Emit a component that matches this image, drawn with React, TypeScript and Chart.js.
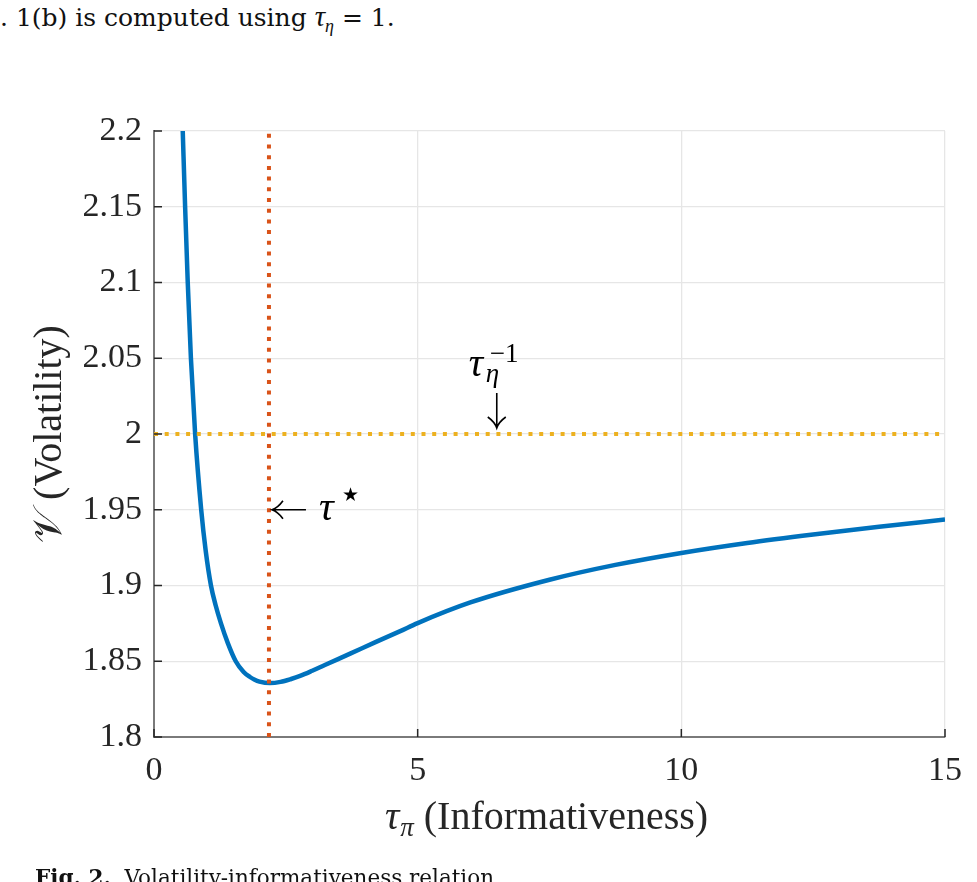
import React, { useEffect, useRef } from "react";
import { Chart, registerables } from "chart.js";

Chart.register(...registerables);

// ---- data ----
const tauPi = [0.545, 0.59, 0.64, 0.7, 0.78, 0.895, 0.98, 1.08, 1.17, 1.27, 1.4, 1.55, 1.7, 1.82, 1.9, 2.0, 2.2, 2.4, 2.6, 2.77, 3.0, 3.24, 3.72, 4.2, 4.67, 5, 6, 7.5, 8.75, 10, 11.25, 12.5, 13.75, 15];
const volatility = [2.2, 2.15, 2.1, 2.05, 2.0, 1.95, 1.923, 1.9, 1.8868, 1.875, 1.862, 1.85, 1.8429, 1.8396, 1.838, 1.8366, 1.8356, 1.8364, 1.8383, 1.8403, 1.8437, 1.8475, 1.855, 1.8626, 1.8699, 1.8752, 1.8888, 1.9038, 1.9136, 1.9215, 1.9281, 1.9337, 1.9388, 1.9435];
const tauStar = 2.18;
const tauEtaInvLevel = 2.0;
const tauEtaLabelX = 6.5;
const tauStarLabelY = 1.95;
const xRange = [0, 15];
const yRange = [1.8, 2.2];
const xTickValues = [0, 5, 10, 15];
const xTickLabels = ["0", "5", "10", "15"];
const yTickValues = [1.8, 1.85, 1.9, 1.95, 2.0, 2.05, 2.1, 2.15, 2.2];
const yTickLabels = ["1.8", "1.85", "1.9", "1.95", "2", "2.05", "2.1", "2.15", "2.2"];
const xTitleMain = "τ";
const xTitleSub = "π";
const xTitleRest = " (Informativeness)";
const yTitle = "𝒱 (Volatility)";

const SERIF = "'Liberation Serif', 'Times New Roman', serif";
const TEXTFONT = "'DejaVu Serif', serif";

const annotPlugin = {
  id: "annot",
  afterDatasetsDraw(chart: any) {
    const { ctx, chartArea: ca } = chart;
    const xs = chart.scales.x;
    const ys = chart.scales.y;
    ctx.save();
    // inward tick marks
    ctx.strokeStyle = "#262626";
    ctx.lineWidth = 1.5;
    ctx.beginPath();
    xs.ticks.forEach((t: any) => {
      const px = xs.getPixelForValue(t.value);
      ctx.moveTo(px, ca.bottom);
      ctx.lineTo(px, ca.bottom - 8);
    });
    ys.ticks.forEach((t: any) => {
      const py = ys.getPixelForValue(t.value);
      ctx.moveTo(ca.left, py);
      ctx.lineTo(ca.left + 8, py);
    });
    ctx.stroke();

    ctx.fillStyle = "#000";
    ctx.strokeStyle = "#000";
    ctx.lineWidth = 1.6;
    ctx.textBaseline = "alphabetic";
    ctx.textAlign = "left";

    // tau_eta^{-1} with down arrow
    const ax = xs.getPixelForValue(tauEtaLabelX);
    const ay = ys.getPixelForValue(tauEtaInvLevel);
    ctx.beginPath();
    ctx.moveTo(ax, ay - 41);
    ctx.lineTo(ax, ay - 7);
    ctx.moveTo(ax - 9, ay - 17);
    ctx.quadraticCurveTo(ax - 2, ay - 12, ax, ay - 6);
    ctx.quadraticCurveTo(ax + 2, ay - 12, ax + 9, ay - 17);
    ctx.stroke();
    ctx.font = `italic 40px ${SERIF}`;
    ctx.fillText("τ", ax - 28, ay - 58);
    ctx.font = `italic 27px ${SERIF}`;
    ctx.fillText("η", ax - 11, ay - 52);
    ctx.font = `27px ${SERIF}`;
    ctx.fillText("−1", ax - 7, ay - 72);

    // <- tau*
    const sx = xs.getPixelForValue(tauStar);
    const sy = ys.getPixelForValue(tauStarLabelY);
    ctx.beginPath();
    ctx.moveTo(sx + 4, sy);
    ctx.lineTo(sx + 37, sy);
    ctx.moveTo(sx + 14, sy - 9);
    ctx.quadraticCurveTo(sx + 9, sy - 2, sx + 3, sy);
    ctx.quadraticCurveTo(sx + 9, sy + 2, sx + 14, sy + 9);
    ctx.stroke();
    ctx.font = `italic 41px ${SERIF}`;
    ctx.fillText("τ", sx + 50, sy + 10);
    ctx.font = `19px 'DejaVu Sans', sans-serif`;
    ctx.fillText("★", sx + 73, sy - 9);

    // x axis title with subscript
    ctx.fillStyle = "#262626";
    ctx.font = `italic 40px ${SERIF}`;
    const wT = ctx.measureText(xTitleMain).width;
    ctx.font = `italic 27px ${SERIF}`;
    const wP = ctx.measureText(xTitleSub).width;
    ctx.font = `40px ${SERIF}`;
    const wR = ctx.measureText(xTitleRest).width;
    const total = wT + 1 + wP + wR;
    const cx = (ca.left + ca.right) / 2 - 3;
    let x0 = cx - total / 2;
    const base = ca.bottom + 92;
    ctx.font = `italic 40px ${SERIF}`;
    ctx.fillText(xTitleMain, x0, base);
    x0 += wT + 1;
    ctx.font = `italic 27px ${SERIF}`;
    ctx.fillText(xTitleSub, x0, base + 7);
    x0 += wP;
    ctx.font = `40px ${SERIF}`;
    ctx.fillText(xTitleRest, x0, base);
    ctx.restore();
  },
};

export default function App() {
  const ref = useRef<HTMLCanvasElement | null>(null);
  useEffect(() => {
    if (!ref.current) return;
    const chart = new Chart(ref.current, {
      type: "line",
      data: {
        datasets: [
          {
            label: "tau star",
            data: [
              { x: tauStar, y: yRange[0] },
              { x: tauStar, y: yRange[1] },
            ],
            borderColor: "#D95319",
            borderWidth: 4,
            borderDash: [4, 6.7],
            pointRadius: 0,
          },
          {
            label: "tau eta inverse",
            data: [
              { x: xRange[0], y: tauEtaInvLevel },
              { x: xRange[1], y: tauEtaInvLevel },
            ],
            borderColor: "#EDB120",
            borderWidth: 4,
            borderDash: [4, 6.7],
            pointRadius: 0,
          },
          {
            label: "Volatility",
            data: tauPi.map((x, i) => ({ x, y: volatility[i] })),
            borderColor: "#0072BD",
            borderWidth: 4.5,
            pointRadius: 0,
            cubicInterpolationMode: "monotone",
          },
        ],
      },
      options: {
        animation: false,
        responsive: false,
        events: [],
        layout: { padding: { top: 131, right: 32, bottom: 0, left: 0 } },
        plugins: { legend: { display: false }, tooltip: { enabled: false } },
        scales: {
          x: {
            type: "linear",
            min: xRange[0],
            max: xRange[1],
            afterFit: (s: any) => {
              s.height = 145;
            },
            afterBuildTicks: (s: any) => {
              s.ticks = xTickValues.map((v) => ({ value: v }));
            },
            ticks: {
              padding: 14,
              maxRotation: 0,
              font: { family: SERIF, size: 34 },
              color: "#262626",
              callback: (v: any) => {
                const i = xTickValues.indexOf(Number(v));
                return i >= 0 ? xTickLabels[i] : "";
              },
            },
            grid: { color: "#e6e6e6", lineWidth: 1.3, drawTicks: false },
            border: { display: true, color: "#7a7a7a", width: 2 },
            title: { display: false },
          },
          y: {
            type: "linear",
            min: yRange[0],
            max: yRange[1],
            afterFit: (s: any) => {
              s.width = 154;
            },
            afterBuildTicks: (s: any) => {
              s.ticks = yTickValues.map((v) => ({ value: v }));
            },
            ticks: {
              padding: 12,
              font: { family: SERIF, size: 34 },
              color: "#262626",
              callback: (v: any) => {
                const i = yTickValues.findIndex((t) => Math.abs(t - Number(v)) < 1e-9);
                return i >= 0 ? yTickLabels[i] : "";
              },
            },
            grid: { color: "#e6e6e6", lineWidth: 1.3, drawTicks: false },
            border: { display: true, color: "#7a7a7a", width: 2 },
            title: {
              display: true,
              text: yTitle,
              font: { family: SERIF, size: 40 },
              color: "#262626",
              padding: { top: 26, bottom: 0 },
            },
          },
        },
      },
      plugins: [annotPlugin],
    } as any);
    return () => chart.destroy();
  }, []);

  return (
    <div
      style={{
        position: "fixed",
        left: 0,
        top: 0,
        width: 977,
        height: 882,
        overflow: "hidden",
        background: "#fff",
      }}
    >
      <div
        style={{
          position: "absolute",
          left: 0,
          top: 0,
          fontFamily: TEXTFONT,
          fontSize: 25,
          color: "#111",
          whiteSpace: "nowrap",
        }}
      >
        . 1(b) is computed using <i style={{ fontFamily: SERIF, fontSize: 29 }}>τ</i>
        <sub style={{ fontSize: 18, fontFamily: SERIF }}>
          <i>η</i>
        </sub>{" "}
        = 1.
      </div>
      <canvas
        ref={ref}
        width={977}
        height={882}
        style={{ position: "absolute", left: 0, top: 0, width: 977, height: 882 }}
      />
      <div
        style={{
          position: "absolute",
          left: 35,
          top: 865,
          fontFamily: TEXTFONT,
          fontSize: 21.5,
          color: "#111",
          whiteSpace: "nowrap",
        }}
      >
        <b>Fig. 2.</b>&nbsp; Volatility-informativeness relation.
      </div>
    </div>
  );
}
